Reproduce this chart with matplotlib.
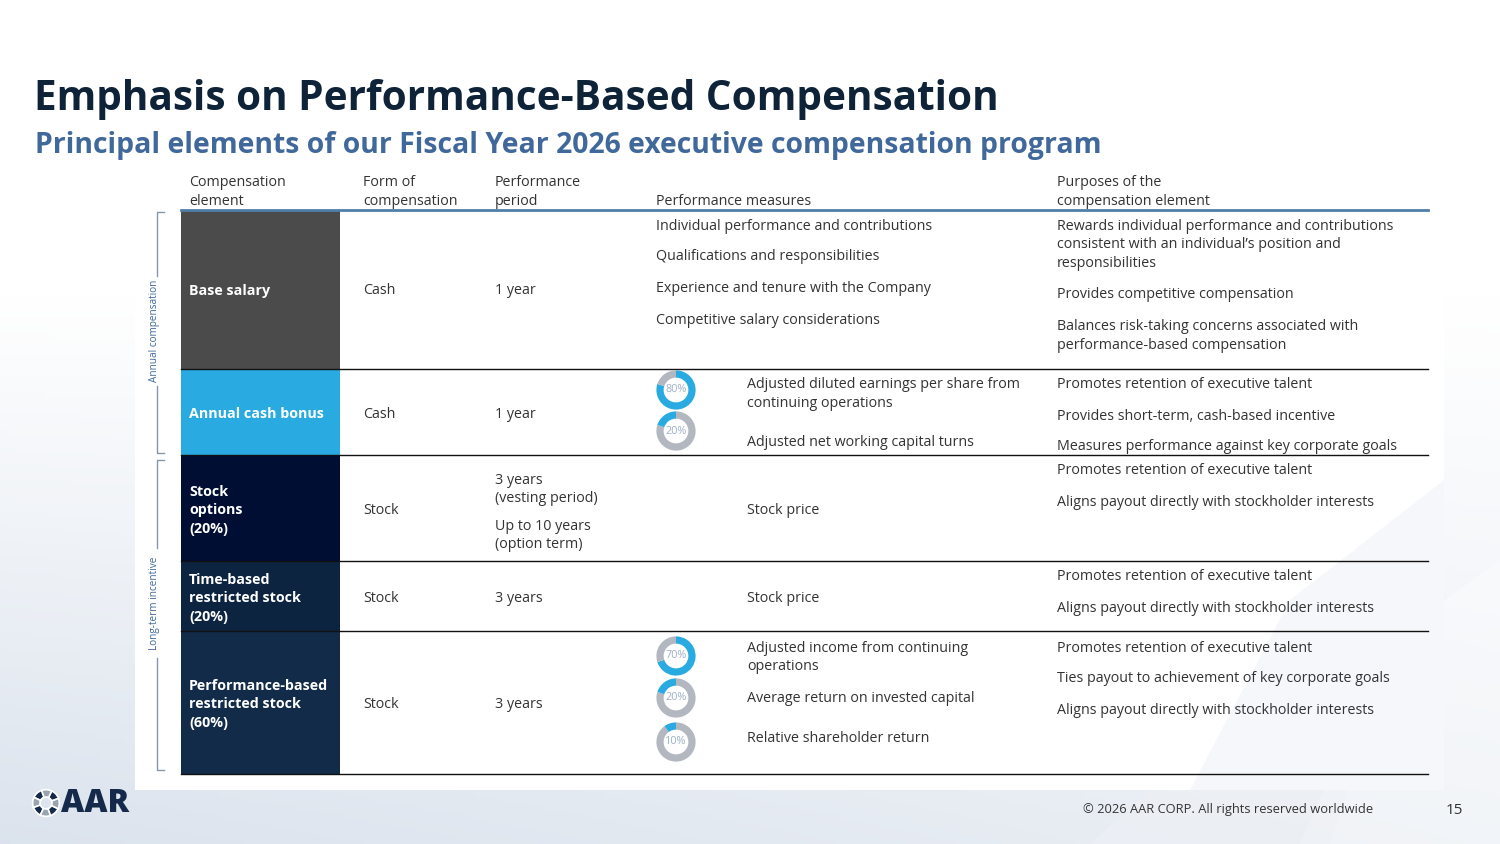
import matplotlib
matplotlib.use('Agg')
import matplotlib.pyplot as plt
from matplotlib.patches import Rectangle, Polygon
import numpy as np

plt.rcParams['font.family'] = ['Open Sans', 'DejaVu Sans']

W, H = 1500, 844

title = "Emphasis on Performance-Based Compensation"
subtitle = "Principal elements of our Fiscal Year 2026 executive compensation program"

headers = [["Compensation", "element"], ["Form of", "compensation"],
           ["Performance", "period"], ["", "Performance measures"],
           ["Purposes of the", "compensation element"]]

elements = [["Base salary"], ["Annual cash bonus"],
            ["Stock", "options", "(20%)"],
            ["Time-based", "restricted stock", "(20%)"],
            ["Performance-based", "restricted stock", "(60%)"]]
element_colors = ["#4b4b4b", "#29abe2", "#010e33", "#0d2441", "#122b49"]

forms = ["Cash", "Cash", "Stock", "Stock", "Stock"]

periods = [[["1 year"]], [["1 year"]],
           [["3 years", "(vesting period)"], ["Up to 10 years", "(option term)"]],
           [["3 years"]], [["3 years"]]]

measures = [
    [["Individual performance and contributions"], ["Qualifications and responsibilities"],
     ["Experience and tenure with the Company"], ["Competitive salary considerations"]],
    [["Adjusted diluted earnings per share from", "continuing operations"],
     ["Adjusted net working capital turns"]],
    [["Stock price"]],
    [["Stock price"]],
    [["Adjusted income from continuing", "operations"],
     ["Average return on invested capital"], ["Relative shareholder return"]],
]
measure_weights = [None, [80, 20], None, None, [70, 20, 10]]

purposes = [
    [["Rewards individual performance and contributions",
      "consistent with an individual\u2019s position and", "responsibilities"],
     ["Provides competitive compensation"],
     ["Balances risk-taking concerns associated with", "performance-based compensation"]],
    [["Promotes retention of executive talent"], ["Provides short-term, cash-based incentive"],
     ["Measures performance against key corporate goals"]],
    [["Promotes retention of executive talent"], ["Aligns payout directly with stockholder interests"]],
    [["Promotes retention of executive talent"], ["Aligns payout directly with stockholder interests"]],
    [["Promotes retention of executive talent"], ["Ties payout to achievement of key corporate goals"],
     ["Aligns payout directly with stockholder interests"]],
]

groups = ["Annual compensation", "Long-term incentive"]

# ---- layout (pixels) ----
row_edges = [210, 369, 455, 561, 631, 774]
col_x = [189, 363, 495, 656, 1057]
meas_x_indent = 747
table_l, table_r = 181, 1428
fill_r = 340
step = 18.7
elem_y = [289, 412, 490, 578, 684]
form_y = [289, 412, 508, 596, 703]
period_y = [[289], [412], [478, 524], [596], [703]]
meas_y = [[224, 255, 287, 318], [383, 441], [508], [596], [646, 696, 737]]
donut_y = [None, [390, 431], None, None, [656, 698, 742]]
purp_y = [[224, 293, 325], [383, 414, 445], [469, 500], [574, 606], [646, 676, 708]]

TXT = "#333333"
BLUE = "#29abe2"
GREY = "#b3b8c0"
NAVY = "#0f2340"
STEEL = "#40689a"
FS = 10.3

fig = plt.figure(figsize=(W / 100, H / 100), dpi=100)
ax = fig.add_axes([0, 0, 1, 1])
ax.set_xlim(0, W)
ax.set_ylim(H, 0)
ax.axis('off')

# background gradient
yy = np.linspace(0, 1, 200)[:, None]
xx = np.linspace(0, 1, 300)[None, :]
t = np.clip((yy - 0.35) / 0.65, 0, 1) * (1 - 0.45 * xx)
top = np.array([1.0, 1.0, 1.0])
bot = np.array([0.86, 0.89, 0.93])
img = top[None, None, :] * (1 - t[..., None]) + bot[None, None, :] * t[..., None]
ax.imshow(img, extent=[0, W, H, 0], aspect='auto', zorder=0)

# faint decorative shapes
ax.add_patch(Polygon([[1300, 844], [1390, 640], [1500, 560], [1500, 844]],
                     closed=True, fc="white", alpha=0.35, ec="none", zorder=0.5))
ax.add_patch(Polygon([[1090, 844], [1250, 700], [1420, 560], [1330, 844]],
                     closed=True, fc="#eef1f5", alpha=0.6, ec="none", zorder=0.5))

# white panel
ax.add_patch(Rectangle((135, 165), 1444 - 135, 790 - 165, fc="white", ec="none", zorder=1))
ax.add_patch(Polygon([[1190, 790], [1290, 600], [1444, 480], [1444, 790]],
                     closed=True, fc="#f3f5f8", alpha=0.7, ec="none", zorder=1.1))

ax.text(34, 99, title, fontsize=29.2, fontweight='bold', color="#0e2238",
        va='center', ha='left', zorder=5)
ax.text(35, 146, subtitle, fontsize=20.4, fontweight='bold', color=STEEL,
        va='center', ha='left', zorder=5)


def lines(x, y0, lst, **kw):
    for k, s in enumerate(lst):
        ax.text(x, y0 + k * step, s, va='center_baseline', ha='left', zorder=5, **kw)


# header
for x, h in zip(col_x, headers):
    lines(x, 181, h, fontsize=FS, color=TXT)
ax.plot([table_l, table_r], [row_edges[0], row_edges[0]], color="#4f7eaa", lw=2, zorder=4)

# rows
for i in range(len(elements)):
    y0, y1 = row_edges[i], row_edges[i + 1]
    ax.add_patch(Rectangle((table_l, y0), fill_r - table_l, y1 - y0,
                           fc=element_colors[i], ec="none", zorder=2))
    ax.plot([table_l, table_r], [y1, y1], color="#111111", lw=1, zorder=4)
    lines(col_x[0], elem_y[i], elements[i], fontsize=FS, fontweight='bold', color="white")
    lines(col_x[1], form_y[i], [forms[i]], fontsize=FS, color=TXT)
    for blk, yb in zip(periods[i], period_y[i]):
        lines(col_x[2], yb, blk, fontsize=FS, color=TXT)
    mx = col_x[3] if i == 0 else meas_x_indent
    for blk, yb in zip(measures[i], meas_y[i]):
        lines(mx, yb, blk, fontsize=FS, color=TXT)
    for blk, yb in zip(purposes[i], purp_y[i]):
        lines(col_x[4], yb, blk, fontsize=FS, color=TXT)
    if measure_weights[i] is not None:
        for pct, yc in zip(measure_weights[i], donut_y[i]):
            r = 20
            dax = fig.add_axes([(676 - r) / W, 1 - (yc + r) / H, 2 * r / W, 2 * r / H])
            if pct >= 50:
                vals, cols = [pct, 100 - pct], [BLUE, GREY]
            else:
                vals, cols = [100 - pct, pct], [GREY, BLUE]
            dax.pie(vals, colors=cols, startangle=90, counterclock=False,
                    wedgeprops=dict(width=0.37, edgecolor='none'))
            dax.text(0, 0, f"{pct}%", ha='center', va='center', fontsize=7.8,
                     color="#9db0c6")
            dax.set_xlim(-1.02, 1.02)
            dax.set_ylim(-1.02, 1.02)
            dax.axis('off')

# group brackets
brackets = [(212, 453, 331), (460, 770, 603)]
for name, (ya, yb, yc) in zip(groups, brackets):
    half = 55
    ax.plot([164, 157, 157], [ya, ya, yc - half], color="#8796aa", lw=1, zorder=4)
    ax.plot([157, 157, 164], [yc + half, yb, yb], color="#8796aa", lw=1, zorder=4)
    ax.text(155, yc, name, rotation=90, fontsize=7.2, color=STEEL,
            ha='center', va='center', zorder=5)

# footer logo
lax = fig.add_axes([(46 - 14) / W, 1 - (803 + 14) / H, 28 / W, 28 / H])
lax.pie([1] * 8, colors=["#15294a", "#9aa3b0"] * 4, startangle=20,
        wedgeprops=dict(width=0.55, edgecolor='white', linewidth=1.2))
lax.set_xlim(-1.05, 1.05)
lax.set_ylim(-1.05, 1.05)
lax.axis('off')
ax.text(61, 804, "AAR", fontsize=23, fontweight='heavy', color="#15294a",
        ha='left', va='center', zorder=5)

ax.text(1373, 810, "\u00a9 2026 AAR CORP. All rights reserved worldwide", fontsize=9.3,
        color=TXT, ha='right', va='center', zorder=5)
ax.text(1454, 810, "15", fontsize=11, color=TXT, ha='center', va='center', zorder=5)

fig.savefig("out.png", dpi=100)
